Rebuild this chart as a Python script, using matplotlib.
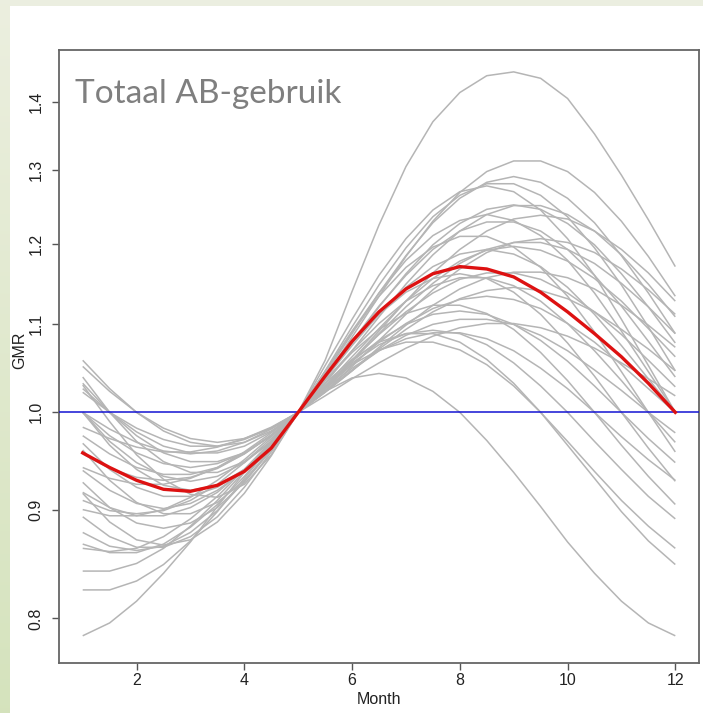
import matplotlib
matplotlib.use("Agg")
import matplotlib.pyplot as plt
from matplotlib.patches import Rectangle
from matplotlib.ticker import FixedLocator, NullLocator
import numpy as np

plt.rcParams['font.family'] = ['Liberation Sans', 'DejaVu Sans']

# maanden (halve-maand stappen)
months = [1.0, 1.5, 2.0, 2.5, 3.0, 3.5, 4.0, 4.5, 5.0, 5.5, 6.0, 6.5,
          7.0, 7.5, 8.0, 8.5, 9.0, 9.5, 10.0, 10.5, 11.0, 11.5, 12.0]

# gemiddelde curve (rood)
gmr_mean = [0.957, 0.942, 0.929, 0.920, 0.918, 0.924, 0.938, 0.962, 1.000, 1.040, 1.080, 1.115,
            1.143, 1.162, 1.171, 1.168, 1.158, 1.139, 1.115, 1.089, 1.062, 1.032, 1.000]

# losse curves (grijs)
gmr_curves = [
    [1.030, 0.990, 0.955, 0.930, 0.915, 0.912, 0.925, 0.955, 1.000, 1.058, 1.140, 1.225,
     1.305, 1.370, 1.414, 1.440, 1.446, 1.436, 1.405, 1.352, 1.293, 1.232, 1.171],
    [1.058, 1.026, 1.000, 0.980, 0.968, 0.964, 0.968, 0.980, 1.000, 1.026, 1.058, 1.092,
     1.128, 1.163, 1.193, 1.217, 1.233, 1.238, 1.233, 1.217, 1.193, 1.163, 1.128],
    [1.051, 1.023, 1.000, 0.983, 0.972, 0.968, 0.972, 0.983, 1.000, 1.023, 1.051, 1.081,
     1.112, 1.142, 1.168, 1.189, 1.202, 1.207, 1.202, 1.189, 1.168, 1.142, 1.112],
    [1.039, 1.000, 0.969, 0.948, 0.937, 0.937, 0.948, 0.969, 1.000, 1.039, 1.085, 1.134,
     1.184, 1.230, 1.269, 1.298, 1.313, 1.313, 1.298, 1.269, 1.230, 1.184, 1.134],
    [1.032, 1.000, 0.975, 0.957, 0.948, 0.948, 0.957, 0.975, 1.000, 1.032, 1.069, 1.109,
     1.149, 1.186, 1.217, 1.239, 1.251, 1.251, 1.239, 1.217, 1.186, 1.149, 1.109],
    [1.026, 1.000, 0.979, 0.964, 0.957, 0.957, 0.964, 0.979, 1.000, 1.026, 1.057, 1.089,
     1.121, 1.150, 1.175, 1.193, 1.202, 1.202, 1.193, 1.175, 1.150, 1.121, 1.089],
    [1.022, 1.000, 0.983, 0.971, 0.964, 0.964, 0.971, 0.983, 1.000, 1.022, 1.046, 1.073,
     1.099, 1.123, 1.143, 1.157, 1.164, 1.164, 1.157, 1.143, 1.123, 1.099, 1.073],
    [1.000, 0.982, 0.968, 0.959, 0.956, 0.959, 0.968, 0.982, 1.000, 1.022, 1.046, 1.071,
     1.094, 1.115, 1.131, 1.141, 1.145, 1.141, 1.131, 1.115, 1.094, 1.071, 1.046],
    [1.000, 0.975, 0.957, 0.946, 0.942, 0.946, 0.957, 0.975, 1.000, 1.029, 1.062, 1.095,
     1.128, 1.156, 1.178, 1.192, 1.197, 1.192, 1.178, 1.156, 1.128, 1.095, 1.062],
    [1.000, 0.969, 0.947, 0.933, 0.928, 0.933, 0.947, 0.969, 1.000, 1.037, 1.078, 1.121,
     1.162, 1.199, 1.227, 1.246, 1.252, 1.246, 1.227, 1.199, 1.162, 1.121, 1.078],
    [1.000, 0.965, 0.940, 0.924, 0.919, 0.924, 0.940, 0.965, 1.000, 1.042, 1.089, 1.138,
     1.185, 1.228, 1.261, 1.283, 1.291, 1.283, 1.261, 1.228, 1.185, 1.138, 1.089],
    [0.984, 0.972, 0.963, 0.958, 0.958, 0.963, 0.972, 0.984, 1.000, 1.018, 1.037, 1.055,
     1.072, 1.086, 1.096, 1.101, 1.101, 1.096, 1.086, 1.072, 1.055, 1.037, 1.018],
    [0.975, 0.956, 0.942, 0.935, 0.935, 0.942, 0.956, 0.975, 1.000, 1.028, 1.058, 1.088,
     1.115, 1.138, 1.155, 1.163, 1.163, 1.155, 1.138, 1.115, 1.088, 1.058, 1.028],
    [0.967, 0.940, 0.922, 0.913, 0.913, 0.922, 0.940, 0.967, 1.000, 1.039, 1.080, 1.122,
     1.160, 1.193, 1.217, 1.229, 1.229, 1.217, 1.193, 1.160, 1.122, 1.080, 1.039],
    [0.960, 0.929, 0.907, 0.896, 0.896, 0.907, 0.929, 0.960, 1.000, 1.046, 1.097, 1.148,
     1.195, 1.236, 1.265, 1.281, 1.281, 1.265, 1.236, 1.195, 1.148, 1.097, 1.046],
    [0.956, 0.941, 0.932, 0.929, 0.932, 0.941, 0.956, 0.976, 1.000, 1.026, 1.053, 1.079,
     1.101, 1.119, 1.130, 1.134, 1.130, 1.119, 1.101, 1.079, 1.053, 1.026, 1.000],
    [0.939, 0.919, 0.906, 0.901, 0.906, 0.919, 0.939, 0.967, 1.000, 1.037, 1.075, 1.112,
     1.145, 1.171, 1.187, 1.193, 1.187, 1.171, 1.145, 1.112, 1.075, 1.037, 1.000],
    [0.927, 0.902, 0.887, 0.882, 0.887, 0.902, 0.927, 0.960, 1.000, 1.045, 1.092, 1.138,
     1.179, 1.211, 1.231, 1.239, 1.231, 1.211, 1.179, 1.138, 1.092, 1.045, 1.000],
    [0.916, 0.888, 0.871, 0.866, 0.871, 0.888, 0.916, 0.954, 1.000, 1.052, 1.106, 1.160,
     1.207, 1.245, 1.270, 1.278, 1.270, 1.245, 1.207, 1.160, 1.106, 1.052, 1.000],
    [0.942, 0.931, 0.925, 0.925, 0.931, 0.942, 0.958, 0.978, 1.000, 1.024, 1.047, 1.069,
     1.087, 1.100, 1.106, 1.106, 1.100, 1.087, 1.069, 1.047, 1.024, 1.000, 0.978],
    [0.917, 0.902, 0.894, 0.894, 0.902, 0.917, 0.940, 0.968, 1.000, 1.035, 1.069, 1.101,
     1.128, 1.147, 1.157, 1.157, 1.147, 1.128, 1.101, 1.069, 1.035, 1.000, 0.968],
    [0.893, 0.874, 0.864, 0.864, 0.874, 0.893, 0.922, 0.958, 1.000, 1.045, 1.091, 1.134,
     1.170, 1.196, 1.210, 1.210, 1.196, 1.170, 1.134, 1.091, 1.045, 1.000, 0.958],
    [0.909, 0.899, 0.896, 0.899, 0.909, 0.925, 0.947, 0.972, 1.000, 1.029, 1.057, 1.081,
     1.100, 1.112, 1.116, 1.112, 1.100, 1.081, 1.057, 1.029, 1.000, 0.972, 0.947],
    [0.878, 0.865, 0.861, 0.865, 0.878, 0.899, 0.928, 0.962, 1.000, 1.040, 1.078, 1.112,
     1.139, 1.156, 1.162, 1.156, 1.139, 1.112, 1.078, 1.040, 1.000, 0.962, 0.928],
    [0.900, 0.894, 0.894, 0.900, 0.912, 0.929, 0.950, 0.974, 1.000, 1.026, 1.049, 1.069,
     1.083, 1.090, 1.090, 1.083, 1.069, 1.049, 1.026, 1.000, 0.974, 0.950, 0.929],
    [0.867, 0.859, 0.859, 0.867, 0.883, 0.905, 0.933, 0.965, 1.000, 1.035, 1.067, 1.094,
     1.113, 1.123, 1.123, 1.113, 1.094, 1.067, 1.035, 1.000, 0.965, 0.933, 0.905],
    [0.863, 0.860, 0.863, 0.874, 0.891, 0.913, 0.940, 0.969, 1.000, 1.029, 1.055, 1.076,
     1.089, 1.093, 1.089, 1.076, 1.055, 1.029, 1.000, 0.969, 0.940, 0.913, 0.891],
    [0.842, 0.842, 0.849, 0.863, 0.884, 0.909, 0.938, 0.969, 1.000, 1.029, 1.053, 1.070,
     1.079, 1.079, 1.070, 1.053, 1.029, 1.000, 0.969, 0.938, 0.909, 0.884, 0.863],
    [0.825, 0.825, 0.833, 0.848, 0.870, 0.898, 0.931, 0.965, 1.000, 1.032, 1.059, 1.079,
     1.089, 1.089, 1.079, 1.059, 1.032, 1.000, 0.965, 0.931, 0.898, 0.870, 0.848],
    [0.785, 0.796, 0.815, 0.840, 0.869, 0.903, 0.937, 0.970, 1.000, 1.023, 1.038, 1.043,
     1.038, 1.023, 1.000, 0.970, 0.937, 0.903, 0.869, 0.840, 0.815, 0.796, 0.785],
]

x_ticks = [2, 4, 6, 8, 10, 12]
y_ticks = [0.8, 0.9, 1.0, 1.1, 1.2, 1.3, 1.4]
y_labels = ['0.8', '0.9', '1.0', '1.1', '1.2', '1.3', '1.4']

W, H = 703, 713
fig = plt.figure(figsize=(W / 100, H / 100), dpi=100)
fig.patch.set_facecolor('#ebeee0')

# witte dia-achtergrond + groene rand links
fig.patches.append(Rectangle((10 / W, 0), 1 - 10 / W, 707 / H, transform=fig.transFigure,
                             facecolor='white', edgecolor='none', zorder=-10))
strip = fig.add_axes([0, 0, 10 / W, 1])
top_c = np.array([0.925, 0.937, 0.875])
bot_c = np.array([0.835, 0.890, 0.740])
grad = np.linspace(0, 1, 256)[:, None, None] * (bot_c - top_c) + top_c
strip.imshow(grad, aspect='auto', extent=[0, 1, 0, 1])
strip.axis('off')

ax = fig.add_axes([59 / W, 1 - 663 / H, 640 / W, 613 / H])
ax.set_facecolor('white')
for curve in gmr_curves:
    ax.plot(months, curve, color='#b5b5b5', lw=1.1, solid_capstyle='butt')
ax.axhline(1.0, color='#1414d2', lw=1.1, zorder=3)
ax.plot(months, gmr_mean, color='#dd1111', lw=2.4, zorder=4)

ax.set_yscale('log')
ax.set_xlim(0.56, 12.44)
ax.set_ylim(0.7622, 1.4807)
ax.yaxis.set_major_locator(FixedLocator(y_ticks))
ax.yaxis.set_minor_locator(NullLocator())
ax.set_yticklabels(y_labels, rotation=90, va='center')
ax.set_xticks(x_ticks)
ax.set_xticklabels([str(v) for v in x_ticks])

ax.tick_params(axis='both', length=5, width=1, color='#555555', labelsize=11.5, labelcolor='#222222')
ax.tick_params(axis='y', pad=6)
ax.tick_params(axis='x', pad=2)
for s in ax.spines.values():
    s.set_color('#666666')
    s.set_linewidth(1.3)

ax.set_xlabel('Month', fontsize=11.5, color='#222222', labelpad=3)
ax.set_ylabel('GMR', fontsize=11.5, color='#222222')
ax.yaxis.set_label_coords(-0.05, 0.51)

ax.text(0.025, 0.9135, 'Totaal AB-gebruik', transform=ax.transAxes, fontsize=24,
        color='#7f7f7f', ha='left', va='baseline', family=['Lato', 'DejaVu Sans'])

fig.savefig('out.png', dpi=100, facecolor=fig.get_facecolor())
